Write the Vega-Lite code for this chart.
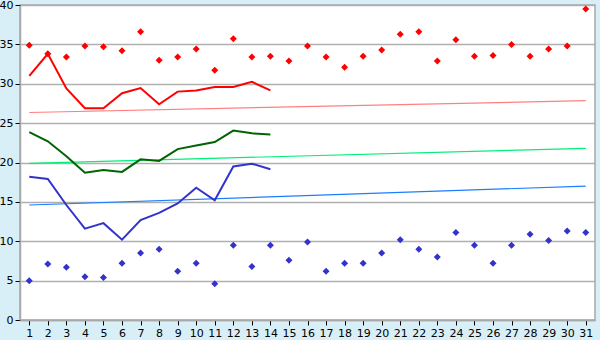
{
  "$schema": "https://vega.github.io/schema/vega-lite/v6.json",
  "width": 575,
  "height": 315,
  "autosize": {"type": "none"},
  "padding": {"left": 20, "top": 5, "right": 5, "bottom": 20},
  "background": "#d9eff7",
  "config": {
    "view": {"fill": "#ffffff", "stroke": "#a8a8a8", "strokeWidth": 1.5},
    "axis": {"labelFont": "DejaVu Sans", "labelFontSize": 11, "labelColor": "#000000", "domainColor": "#a8a8a8", "tickColor": "#000000", "title": null},
    "axisY": {"values": [0,5,10,15,20,25,30,35,40], "grid": true, "gridColor": "#b0b0b0", "gridWidth": 1.5, "tickSize": 5, "labelPadding": 2, "domainWidth": 1.5, "labelFlush": false}
  },
  "datasets": {
    "extremes": [
      {"day": 1, "hi": 34.9, "lo": 5.0}, {"day": 2, "hi": 33.8, "lo": 7.1}, {"day": 3, "hi": 33.4, "lo": 6.7},
      {"day": 4, "hi": 34.8, "lo": 5.5}, {"day": 5, "hi": 34.7, "lo": 5.4}, {"day": 6, "hi": 34.2, "lo": 7.2},
      {"day": 7, "hi": 36.6, "lo": 8.5}, {"day": 8, "hi": 33.0, "lo": 9.0}, {"day": 9, "hi": 33.4, "lo": 6.2},
      {"day": 10, "hi": 34.4, "lo": 7.2}, {"day": 11, "hi": 31.7, "lo": 4.6}, {"day": 12, "hi": 35.7, "lo": 9.5},
      {"day": 13, "hi": 33.4, "lo": 6.8}, {"day": 14, "hi": 33.5, "lo": 9.5}, {"day": 15, "hi": 32.9, "lo": 7.6},
      {"day": 16, "hi": 34.8, "lo": 9.9}, {"day": 17, "hi": 33.4, "lo": 6.2}, {"day": 18, "hi": 32.1, "lo": 7.2},
      {"day": 19, "hi": 33.5, "lo": 7.2}, {"day": 20, "hi": 34.3, "lo": 8.5}, {"day": 21, "hi": 36.3, "lo": 10.2},
      {"day": 22, "hi": 36.6, "lo": 9.0}, {"day": 23, "hi": 32.9, "lo": 8.0}, {"day": 24, "hi": 35.6, "lo": 11.1},
      {"day": 25, "hi": 33.5, "lo": 9.5}, {"day": 26, "hi": 33.6, "lo": 7.2}, {"day": 27, "hi": 35.0, "lo": 9.5},
      {"day": 28, "hi": 33.5, "lo": 10.9}, {"day": 29, "hi": 34.4, "lo": 10.1}, {"day": 30, "hi": 34.8, "lo": 11.3},
      {"day": 31, "hi": 39.5, "lo": 11.1}
    ],
    "lines": [
      {"day": 1, "series": "max", "value": 31.0}, {"day": 2, "series": "max", "value": 33.8}, {"day": 3, "series": "max", "value": 29.4},
      {"day": 4, "series": "max", "value": 26.9}, {"day": 5, "series": "max", "value": 26.9}, {"day": 6, "series": "max", "value": 28.8},
      {"day": 7, "series": "max", "value": 29.45}, {"day": 8, "series": "max", "value": 27.4}, {"day": 9, "series": "max", "value": 29.0},
      {"day": 10, "series": "max", "value": 29.15}, {"day": 11, "series": "max", "value": 29.6}, {"day": 12, "series": "max", "value": 29.6},
      {"day": 13, "series": "max", "value": 30.25}, {"day": 14, "series": "max", "value": 29.15},
      {"day": 1, "series": "mean", "value": 23.85}, {"day": 2, "series": "mean", "value": 22.7}, {"day": 3, "series": "mean", "value": 20.8},
      {"day": 4, "series": "mean", "value": 18.7}, {"day": 5, "series": "mean", "value": 19.05}, {"day": 6, "series": "mean", "value": 18.8},
      {"day": 7, "series": "mean", "value": 20.4}, {"day": 8, "series": "mean", "value": 20.2}, {"day": 9, "series": "mean", "value": 21.7},
      {"day": 10, "series": "mean", "value": 22.15}, {"day": 11, "series": "mean", "value": 22.6}, {"day": 12, "series": "mean", "value": 24.05},
      {"day": 13, "series": "mean", "value": 23.7}, {"day": 14, "series": "mean", "value": 23.55},
      {"day": 1, "series": "min", "value": 18.2}, {"day": 2, "series": "min", "value": 17.9}, {"day": 3, "series": "min", "value": 14.6},
      {"day": 4, "series": "min", "value": 11.6}, {"day": 5, "series": "min", "value": 12.3}, {"day": 6, "series": "min", "value": 10.2},
      {"day": 7, "series": "min", "value": 12.7}, {"day": 8, "series": "min", "value": 13.6}, {"day": 9, "series": "min", "value": 14.8},
      {"day": 10, "series": "min", "value": 16.8}, {"day": 11, "series": "min", "value": 15.2}, {"day": 12, "series": "min", "value": 19.5},
      {"day": 13, "series": "min", "value": 19.85}, {"day": 14, "series": "min", "value": 19.15}
    ],
    "trend": [
      {"day": 1, "series": "max trend", "value": 26.35}, {"day": 31, "series": "max trend", "value": 27.85},
      {"day": 1, "series": "mean trend", "value": 19.9}, {"day": 31, "series": "mean trend", "value": 21.8},
      {"day": 1, "series": "min trend", "value": 14.6}, {"day": 31, "series": "min trend", "value": 17.0}
    ]
  },
  "encoding": {
    "x": {
      "field": "day", "type": "quantitative",
      "scale": {"domain": [0.5, 31.5], "nice": false, "zero": false},
      "axis": {"values": [1,2,3,4,5,6,7,8,9,10,11,12,13,14,15,16,17,18,19,20,21,22,23,24,25,26,27,28,29,30,31], "grid": false, "tickSize": 5, "labelPadding": 2, "labelFlush": false, "labelOverlap": false, "domainWidth": 1.5}
    }
  },
  "layer": [
    {
      "data": {"name": "trend"},
      "mark": {"type": "line", "strokeWidth": 1.2},
      "encoding": {
        "y": {"field": "value", "type": "quantitative", "scale": {"domain": [0, 40], "nice": false}},
        "color": {"field": "series", "type": "nominal",
          "scale": {"domain": ["max trend", "mean trend", "min trend"], "range": ["#ff8080", "#00ee77", "#1a7fff"]},
          "legend": null},
        "detail": {"field": "series"}
      }
    },
    {
      "data": {"name": "lines"},
      "mark": {"type": "line", "strokeWidth": 2},
      "encoding": {
        "y": {"field": "value", "type": "quantitative"},
        "stroke": {"field": "series", "type": "nominal",
          "scale": {"domain": ["max", "mean", "min"], "range": ["#ff0000", "#006400", "#3333cc"]},
          "legend": null}
      }
    },
    {
      "data": {"name": "extremes"},
      "mark": {"type": "point", "shape": "diamond", "filled": true, "size": 49, "color": "#ff0000", "opacity": 1},
      "encoding": {"y": {"field": "hi", "type": "quantitative"}}
    },
    {
      "data": {"name": "extremes"},
      "mark": {"type": "point", "shape": "diamond", "filled": true, "size": 49, "color": "#3333cc", "opacity": 1},
      "encoding": {"y": {"field": "lo", "type": "quantitative"}}
    }
  ],
  "resolve": {"scale": {"color": "independent"}}
}
